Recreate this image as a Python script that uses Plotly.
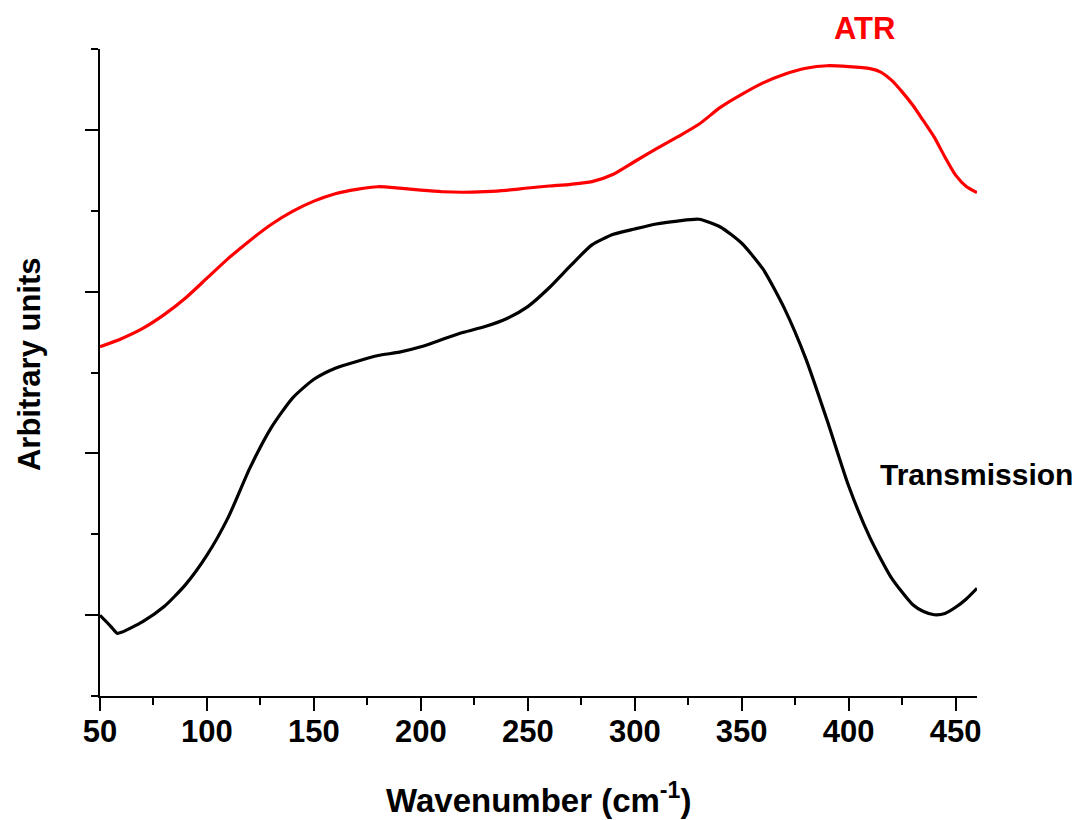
import plotly.graph_objects as go

# Wavenumber grid (cm^-1)
atr_x = [50, 60, 70, 80, 90, 100, 110, 120, 130, 140, 150, 160, 170, 180, 190, 200,
         210, 220, 230, 240, 250, 260, 270, 280, 290, 300, 310, 320, 330, 340, 350,
         360, 370, 380, 390, 400, 410, 415, 420, 425, 430, 435, 440, 445, 450, 455, 460]
atr_y = [4.318, 4.418, 4.545, 4.715, 4.921, 5.166, 5.411, 5.630, 5.830, 5.992, 6.119,
         6.211, 6.265, 6.297, 6.279, 6.254, 6.235, 6.229, 6.237, 6.253, 6.281, 6.306,
         6.327, 6.360, 6.451, 6.609, 6.765, 6.913, 7.069, 7.278, 7.439, 7.581, 7.688,
         7.762, 7.793, 7.782, 7.757, 7.715, 7.615, 7.470, 7.304, 7.110, 6.910, 6.665,
         6.440, 6.300, 6.225]

trans_x = [50, 55, 58, 60, 70, 80, 90, 100, 110, 120, 130, 140, 150, 160, 170, 180, 190,
           200, 210, 220, 230, 240, 250, 260, 270, 280, 290, 300, 310, 320, 330, 340,
           350, 360, 370, 380, 390, 400, 410, 420, 430, 435, 440, 445, 450, 455, 460]
trans_y = [0.998, 0.862, 0.776, 0.787, 0.920, 1.106, 1.377, 1.741, 2.212, 2.815, 3.316,
           3.684, 3.916, 4.053, 4.137, 4.210, 4.252, 4.318, 4.409, 4.497, 4.568, 4.665,
           4.815, 5.048, 5.321, 5.578, 5.708, 5.775, 5.836, 5.872, 5.895, 5.799, 5.598,
           5.277, 4.790, 4.169, 3.403, 2.596, 1.956, 1.461, 1.128, 1.045, 1.005, 1.020,
           1.097, 1.200, 1.332]

x_major = [50, 100, 150, 200, 250, 300, 350, 400, 450]
x_minor = [75, 125, 175, 225, 275, 325, 375, 425]
y_major = [1, 3, 5, 7]
y_minor = [0, 2, 4, 6, 8]

FONT = "Liberation Sans, Arial, sans-serif"

fig = go.Figure()
fig.add_trace(go.Scatter(x=atr_x, y=atr_y, mode="lines",
                         line=dict(color="#ff0000", width=3.2, shape="spline", smoothing=0.6),
                         showlegend=False))
fig.add_trace(go.Scatter(x=trans_x, y=trans_y, mode="lines",
                         line=dict(color="#000000", width=3.2, shape="spline", smoothing=0.6),
                         showlegend=False))

fig.update_layout(
    width=1074, height=812,
    margin=dict(l=92, r=105, t=41, b=124),
    paper_bgcolor="white", plot_bgcolor="white",
    xaxis=dict(range=[50, 460], tickvals=x_major, ticktext=[str(v) for v in x_major],
               ticks="outside", ticklen=13, tickwidth=2, tickcolor="black",
               ticklabelstandoff=-6,
               showline=True, linewidth=2, linecolor="black", showgrid=False, zeroline=False,
               tickfont=dict(family=FONT, size=31, color="black", weight="bold"),
               minor=dict(tickvals=x_minor, ticks="outside", ticklen=7, tickwidth=2,
                          tickcolor="black", showgrid=False)),
    yaxis=dict(range=[0, 8], tickvals=y_major, showticklabels=False,
               ticks="outside", ticklen=13, tickwidth=2, tickcolor="black",
               showline=True, linewidth=2, linecolor="black", showgrid=False, zeroline=False,
               minor=dict(tickvals=y_minor, ticks="outside", ticklen=7, tickwidth=2,
                          tickcolor="black", showgrid=False)),
    annotations=[
        dict(text="Wavenumber (cm<sup>-1</sup>)", xref="paper", yref="paper",
             x=0.5, y=-0.1577, xanchor="center", yanchor="middle", showarrow=False,
             font=dict(family=FONT, size=33, color="black", weight="bold")),
        dict(text="Arbitrary units", xref="paper", yref="paper",
             x=-0.081, y=0.513, xanchor="center", yanchor="middle", textangle=-90,
             showarrow=False,
             font=dict(family=FONT, size=31, color="black", weight="bold")),
        dict(text="ATR", xref="paper", yref="paper", x=0.872, y=1.032,
             xanchor="center", yanchor="middle", showarrow=False,
             font=dict(family=FONT, size=31, color="#ff0000", weight="bold")),
        dict(text="Transmission", xref="x", yref="y", x=413.5, y=2.743,
             xanchor="left", yanchor="middle", showarrow=False,
             font=dict(family=FONT, size=30, color="black", weight="bold")),
    ],
)

fig.write_html("out.html")
